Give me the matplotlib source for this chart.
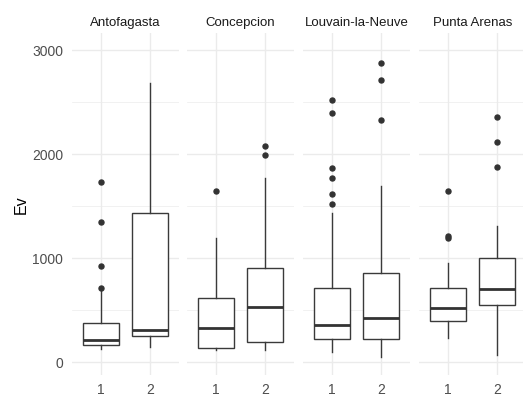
# Faceted boxplots of Ev by group for four sites (ggplot theme_minimal look)

import matplotlib.pyplot as plt
from matplotlib.ticker import MultipleLocator

plt.rcParams['font.family'] = ['Liberation Sans', 'DejaVu Sans']

sites = ['Antofagasta', 'Concepcion', 'Louvain-la-Neuve', 'Punta Arenas']
groups = ['1', '2']

# five-number summaries: [lower whisker, q1, median, q3, upper whisker]
antofagasta_1 = [125, 163, 211, 378, 692]
antofagasta_2 = [141, 250, 308, 1430, 2680]
concepcion_1 = [115, 131, 330, 612, 1189]
concepcion_2 = [115, 195, 532, 900, 1766]
louvain_1 = [99, 218, 353, 708, 1436]
louvain_2 = [45, 218, 426, 859, 1692]
punta_1 = [228, 397, 522, 708, 955]
punta_2 = [67, 548, 702, 997, 1308]

antofagasta_1_out = [708, 923, 1346, 1730]
antofagasta_2_out = []
concepcion_1_out = [1644]
concepcion_2_out = [1990, 2080]
louvain_1_out = [1516, 1612, 1772, 1868, 2391, 2519]
louvain_2_out = [2327, 2712, 2881]
punta_1_out = [1189, 1212, 1644]
punta_2_out = [1878, 2112, 2359]

summaries = [
    [(antofagasta_1, antofagasta_1_out), (antofagasta_2, antofagasta_2_out)],
    [(concepcion_1, concepcion_1_out), (concepcion_2, concepcion_2_out)],
    [(louvain_1, louvain_1_out), (louvain_2, louvain_2_out)],
    [(punta_1, punta_1_out), (punta_2, punta_2_out)],
]

W, H = 523, 396
fig = plt.figure(figsize=(W / 100, H / 100), dpi=100)
fig.patch.set_facecolor('white')

panel_lefts = [72, 187, 303, 419]
panel_width = 107
panel_top, panel_bottom = 33, 375

for i, site in enumerate(sites):
    ax = fig.add_axes([panel_lefts[i] / W, 1 - panel_bottom / H,
                       panel_width / W, (panel_bottom - panel_top) / H])
    stats = []
    for (lo, q1, med, q3, hi), out in summaries[i]:
        stats.append(dict(whislo=lo, q1=q1, med=med, q3=q3, whishi=hi, fliers=out))
    ax.bxp(stats, positions=[1, 2], widths=0.75, showcaps=False, patch_artist=True,
           boxprops=dict(facecolor='white', edgecolor='#3a3a3a', linewidth=1.0),
           whiskerprops=dict(color='#3a3a3a', linewidth=1.0),
           medianprops=dict(color='#333333', linewidth=2.0, solid_capstyle='butt'),
           flierprops=dict(marker='o', markerfacecolor='#333333', markeredgecolor='#333333',
                           markersize=3.6, linestyle='none'),
           zorder=3)
    ax.set_xlim(0.4, 2.6)
    ax.set_ylim(-125, 3165)
    ax.set_xticks([1, 2])
    ax.set_xticklabels(groups)
    ax.yaxis.set_major_locator(MultipleLocator(1000))
    ax.yaxis.set_minor_locator(MultipleLocator(500))
    ax.grid(True, which='major', color='#EBEBEB', linewidth=1.0, zorder=0)
    ax.grid(True, which='minor', axis='y', color='#EBEBEB', linewidth=0.5, zorder=0)
    ax.set_axisbelow(True)
    for s in ax.spines.values():
        s.set_visible(False)
    ax.tick_params(which='both', length=0, labelsize=10, labelcolor='#4D4D4D')
    ax.tick_params(axis='x', pad=6)
    ax.tick_params(axis='y', pad=6.5)
    if i > 0:
        ax.set_yticklabels([])
    ax.set_title(site, fontsize=9.5, color='#1A1A1A', pad=5)

fig.text(21 / W, 1 - 205 / H, 'Ev', rotation=90, fontsize=11.5, color='black',
         ha='center', va='center')

fig.savefig('out.png', dpi=100)
